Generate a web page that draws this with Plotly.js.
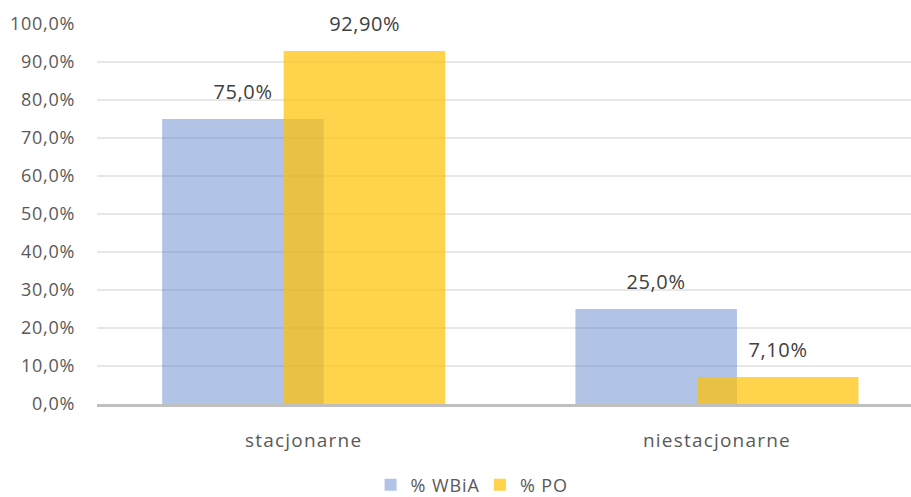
<!DOCTYPE html>
<html>
<head>
<meta charset="utf-8">
<script src="https://cdn.plot.ly/plotly-3.0.1.min.js"></script>
<style>
html,body{margin:0;padding:0;background:#fff;}
#chart{width:911px;height:497px;}
#chart .xtick text{letter-spacing:1.2px;}
#chart .ytick text{letter-spacing:0.7px;}
#chart .annotation-text{letter-spacing:0.6px;}
#chart .legendtext{letter-spacing:0.9px;}
</style>
</head>
<body>
<div id="chart"></div>
<script>
var categories = ["stacjonarne", "niestacjonarne"];
var seriesNames = ["% WBiA", "% PO"];
var wbiaValues = [75.0, 25.0];
var poValues = [92.9, 7.1];
var wbiaLabels = ["75,0%", "25,0%"];
var poLabels = ["92,90%", "7,10%"];
var yTickVals = [0, 10, 20, 30, 40, 50, 60, 70, 80, 90, 100];
var yTickText = ["0,0%", "10,0%", "20,0%", "30,0%", "40,0%", "50,0%", "60,0%", "70,0%", "80,0%", "90,0%", "100,0%"];

var barWidth = 0.3908;
var wbiaOffset = -0.3424;
var poOffset = -0.0484;
var FONT = "Open Sans, sans-serif";

var xIdx = categories.map(function (c, i) { return i; });

var traces = [
  {
    type: "bar", name: seriesNames[0], x: xIdx, y: wbiaValues,
    width: barWidth, offset: wbiaOffset,
    marker: { color: "rgba(68,114,196,0.42)", line: { width: 0 } },
    hoverinfo: "skip"
  },
  {
    type: "bar", name: seriesNames[1], x: xIdx, y: poValues,
    width: barWidth, offset: poOffset,
    marker: { color: "rgba(255,192,0,0.70)", line: { width: 0 } },
    hoverinfo: "skip"
  }
];

var annotations = [];
xIdx.forEach(function (i) {
  annotations.push({
    xref: "x", yref: "y", x: i + wbiaOffset + barWidth / 2, y: wbiaValues[i],
    text: wbiaLabels[i], showarrow: false, yanchor: "bottom", yshift: 12,
    font: { family: FONT, size: 20, color: "#404040" }
  });
  annotations.push({
    xref: "x", yref: "y", x: i + poOffset + barWidth / 2, y: poValues[i],
    text: poLabels[i], showarrow: false, yanchor: "bottom", yshift: 12,
    font: { family: FONT, size: 20, color: "#404040" }
  });
});

var layout = {
  width: 911, height: 497,
  margin: { l: 97, r: 0, t: 24, b: 93, pad: 0 },
  paper_bgcolor: "#ffffff", plot_bgcolor: "#ffffff",
  barmode: "overlay",
  showlegend: true,
  font: { family: FONT, color: "#595959", size: 18 },
  xaxis: {
    type: "linear",
    range: [-0.5, 1.4695],
    tickmode: "array", tickvals: xIdx, ticktext: categories,
    showgrid: false, zeroline: false,
    showline: true, linecolor: "#bfbfbf", linewidth: 3,
    ticks: "", ticklabelstandoff: 17,
    tickfont: { family: FONT, size: 19, color: "#595959" },
    fixedrange: true
  },
  yaxis: {
    range: [0, 100],
    tickmode: "array", tickvals: yTickVals, ticktext: yTickText,
    showgrid: true, gridcolor: "#e8e8e8", gridwidth: 1.5,
    zeroline: false, showline: false, ticks: "",
    ticklabelstandoff: 21,
    tickfont: { family: FONT, size: 18, color: "#595959" },
    fixedrange: true
  },
  legend: {
    orientation: "h", xref: "container", yref: "container",
    x: 0.516, xanchor: "center", y: 0.024, yanchor: "middle",
    font: { family: FONT, size: 18, color: "#595959" },
    bgcolor: "rgba(0,0,0,0)", itemclick: false, itemdoubleclick: false
  },
  annotations: annotations
};

Plotly.newPlot("chart", traces, layout, { displayModeBar: false, staticPlot: true });
</script>
</body>
</html>
